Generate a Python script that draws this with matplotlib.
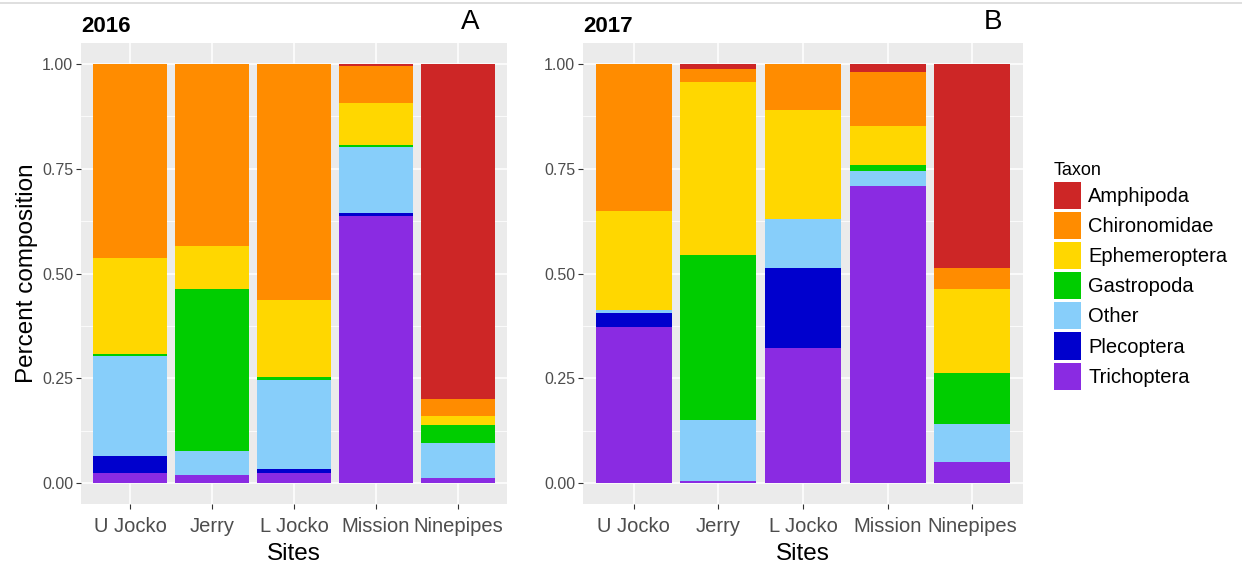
import numpy as np
import matplotlib.pyplot as plt
from matplotlib.patches import Patch
from matplotlib.ticker import MultipleLocator

plt.rcParams['font.family'] = ['Liberation Sans', 'DejaVu Sans']

sites = ['U Jocko', 'Jerry', 'L Jocko', 'Mission', 'Ninepipes']
taxa = ['Amphipoda', 'Chironomidae', 'Ephemeroptera', 'Gastropoda',
        'Other', 'Plecoptera', 'Trichoptera']
colors = ['#CD2626', '#FF8C00', '#FFD700', '#00CD00',
          '#87CEFA', '#0000CD', '#8A2BE2']

# proportions per site, one list per taxon (site order as above)
comp_2016 = {
    'Amphipoda':     [0.000, 0.000, 0.000, 0.004, 0.800],
    'Chironomidae':  [0.464, 0.434, 0.563, 0.088, 0.039],
    'Ephemeroptera': [0.228, 0.104, 0.185, 0.101, 0.023],
    'Gastropoda':    [0.004, 0.385, 0.006, 0.006, 0.042],
    'Other':         [0.239, 0.058, 0.212, 0.157, 0.084],
    'Plecoptera':    [0.041, 0.000, 0.010, 0.007, 0.000],
    'Trichoptera':   [0.024, 0.019, 0.024, 0.637, 0.012],
}
comp_2017 = {
    'Amphipoda':     [0.000, 0.012, 0.000, 0.019, 0.487],
    'Chironomidae':  [0.351, 0.031, 0.111, 0.128, 0.049],
    'Ephemeroptera': [0.235, 0.413, 0.258, 0.093, 0.202],
    'Gastropoda':    [0.000, 0.394, 0.000, 0.016, 0.120],
    'Other':         [0.008, 0.145, 0.119, 0.036, 0.092],
    'Plecoptera':    [0.034, 0.000, 0.189, 0.000, 0.000],
    'Trichoptera':   [0.372, 0.005, 0.323, 0.708, 0.050],
}

W, H = 1242, 567
fig = plt.figure(figsize=(W / 100, H / 100), dpi=100)


def px_axes(x0, x1, y0, y1):
    return fig.add_axes([x0 / W, 1 - y1 / H, (x1 - x0) / W, (y1 - y0) / H])


def panel(ax, comp):
    x = np.arange(len(sites))
    ax.set_facecolor('#EBEBEB')
    # stack from the bottom: last taxon first
    bottom = np.zeros(len(sites))
    for taxon, col in zip(taxa[::-1], colors[::-1]):
        vals = np.array(comp[taxon])
        ax.bar(x, vals, width=0.9, bottom=bottom, color=col, linewidth=0, zorder=3)
        bottom += vals
    ax.set_xlim(-0.6, len(sites) - 0.4)
    ax.set_ylim(-0.05, 1.05)
    ax.yaxis.set_minor_locator(MultipleLocator(0.125))
    ax.set_yticks([0, 0.25, 0.5, 0.75, 1.0])
    ax.set_yticklabels(['0.00', '0.25', '0.50', '0.75', '1.00'])
    ax.set_xticks(x)
    ax.set_xticklabels(sites)
    ax.grid(True, which='major', color='white', linewidth=1.1, zorder=0)
    ax.grid(True, which='minor', axis='y', color='white', linewidth=0.55, zorder=0)
    ax.set_axisbelow(True)
    for s in ax.spines.values():
        s.set_visible(False)
    ax.tick_params(axis='y', which='major', length=3.5, width=0.8, color='#333333',
                   labelsize=11.5, labelcolor='#4D4D4D', pad=2)
    ax.tick_params(axis='x', which='major', length=3.5, width=0.8, color='#333333',
                   labelsize=14.5, labelcolor='#4D4D4D', pad=6)
    ax.tick_params(which='minor', length=0)
    ax.set_xlabel('Sites', fontsize=17.5, labelpad=5)


ax1 = px_axes(81, 507, 43, 504)
panel(ax1, comp_2016)
ax1.set_ylabel('Percent composition', fontsize=17.5, labelpad=3)

ax2 = px_axes(583, 1023, 43, 504)
panel(ax2, comp_2017)

fig.text(81 / W, 1 - 32 / H, '2016', fontsize=16, fontweight='bold', va='baseline')
fig.text(583 / W, 1 - 32 / H, '2017', fontsize=16, fontweight='bold', va='baseline')
fig.text(461 / W, 1 - 29 / H, 'A', fontsize=20, va='baseline')
fig.text(984 / W, 1 - 29 / H, 'B', fontsize=20, va='baseline')

# thin rule across the top
fig.add_artist(plt.Line2D([0, 1], [1 - 3 / H, 1 - 3 / H], color='#D9D9D9', linewidth=1.2))

handles = [Patch(facecolor=c, edgecolor='none', label=t) for t, c in zip(taxa, colors)]
leg = fig.legend(handles=handles, title='Taxon', loc='upper left',
                 bbox_to_anchor=(1046 / W, 1 - 154 / H), frameon=False,
                 fontsize=14.5, title_fontsize=13, handlelength=1.35,
                 handleheight=1.69, labelspacing=0.15, handletextpad=0.35,
                 borderaxespad=0, alignment='left')

fig.savefig('out.png', dpi=100)
